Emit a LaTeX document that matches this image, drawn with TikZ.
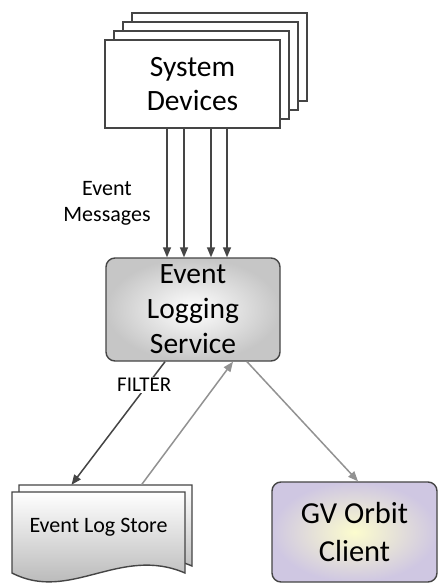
\documentclass[tikz,border=0pt]{standalone}
\usepackage{fontspec}
\setmainfont{Carlito}
\usetikzlibrary{arrows.meta,calc}
\definecolor{edge}{HTML}{454545}
\definecolor{lgray}{HTML}{929292}
\definecolor{lav}{HTML}{CFC7E2}
\definecolor{pyel}{HTML}{FCFCCE}
\definecolor{elsout}{HTML}{C6C6C6}
\definecolor{docbot}{HTML}{ABABAB}
\tikzset{
  sheet/.style={draw=edge, line width=1.4pt, fill=white, minimum width=175pt, minimum height=88pt, inner sep=0pt},
  darrow/.style={draw=edge, line width=1.5pt, -{Triangle[length=10pt,width=8pt]}},
  garrow/.style={draw=lgray, line width=1.5pt, -{Triangle[length=10pt,width=8pt]}},
  bigtxt/.style={font=\fontsize{29.5}{34}\selectfont, align=center, text=black},
  smalltxt/.style={font=\fontsize{22}{26}\selectfont, align=center, text=black},
  docshape/.style={top color=white, bottom color=docbot, draw=edge, line width=1.4pt},
  ghost/.style={inner sep=0pt, minimum width=174pt, minimum height=83pt}
}
\begin{document}
\begin{tikzpicture}[x=1pt,y=-1pt]
\useasboundingbox[fill=white] (0,0) rectangle (438,583);

% System devices stack
\node[sheet] (sd3) at (219.5,57) {};
\node[sheet] (sd2) at (210.5,66) {};
\node[sheet] (sd1) at (201.5,75) {};
\node[sheet, bigtxt] (sd) at (192.5,84) {System\\Devices};

% Event logging service
\node[draw=edge, line width=1.4pt, rounded corners=9pt, minimum width=174pt, minimum height=103pt,
      inner color=white, outer color=elsout, font=\fontsize{29.5}{35}\selectfont, align=center]
      (els) at (193,309.5) {Event\\Logging\\Service};

% four message arrows
\draw[darrow] ([xshift=-25.5pt]sd.south) -- ([xshift=-26pt]els.north);
\draw[darrow] ([xshift=-8.5pt]sd.south) -- ([xshift=-9pt]els.north);
\draw[darrow] ([xshift=18.5pt]sd.south) -- ([xshift=18pt]els.north);
\draw[darrow] ([xshift=34.5pt]sd.south) -- ([xshift=34pt]els.north);

\node[smalltxt] (em) at (107,203) {Event\\Messages};

% Event log store (document stack)
\node[ghost] (storeb) at (105.5,526.5) {};
\shade[docshape] (19,485) -- (192,485) -- (192,566) .. controls (127,538) and (77,596) .. (19,566) -- cycle;
\shade[docshape] (12,492) -- (185,492) -- (185,573) .. controls (120,545) and (70,603) .. (12,573) -- cycle;
\node[font=\fontsize{22}{25}\selectfont] (store) at (98.5,527) {Event Log Store};

% GV Orbit client
\node[draw=edge, line width=1.4pt, rounded corners=9pt, minimum width=165pt, minimum height=100pt,
      inner color=pyel, outer color=lav, font=\fontsize{30.5}{38}\selectfont, align=center]
      (gv) at (354.5,532) {GV Orbit\\Client};

% connectors
\draw[darrow] ([xshift=-28pt]els.south) -- node[pos=0.19, xshift=-3pt, fill=white, inner sep=1pt, font=\fontsize{21}{24}\selectfont] (filt) {FILTER} ([xshift=-34pt]storeb.north);
\draw[garrow] ([xshift=36pt]storeb.north) -- ([xshift=40pt]els.south);
\draw[garrow] ([xshift=54pt]els.south) -- ([xshift=3.5pt]gv.north);
\end{tikzpicture}
\end{document}
